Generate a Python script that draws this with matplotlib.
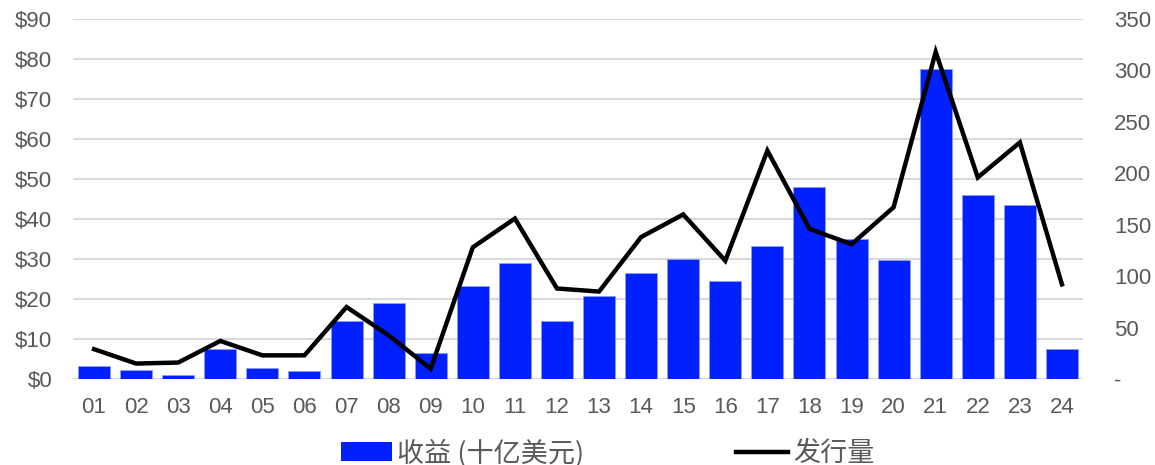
import numpy as np
import matplotlib
matplotlib.use('Agg')
from matplotlib import pyplot as plt
from matplotlib.lines import Line2D
from matplotlib.patches import Patch

plt.rcParams['font.family'] = ['Liberation Sans', 'Noto Sans CJK SC', 'DejaVu Sans']

# data
years = ['01', '02', '03', '04', '05', '06', '07', '08', '09', '10', '11', '12',
         '13', '14', '15', '16', '17', '18', '19', '20', '21', '22', '23', '24']
proceeds = [3.3, 2.25, 1.0, 7.6, 2.8, 2.1, 14.5, 18.9, 6.4, 23.3, 28.9, 14.5,
            20.8, 26.6, 30.1, 24.5, 33.3, 47.9, 34.9, 29.75, 77.4, 45.9, 43.5, 7.4]
issuance = [29, 15, 16, 37, 23, 23, 70, 42.5, 10, 128, 156, 88,
            85, 138, 160, 115, 222, 146, 131, 167, 318, 196, 230, 92]

left_ticks = np.arange(0, 91, 10)
right_ticks = np.arange(0, 351, 50)

bar_color = '#0020ff'
text_color = '#595959'
grid_color = '#d9d9d9'

fig = plt.figure(figsize=(11.55, 4.65), dpi=100)
ax1 = fig.add_axes([73/1155, 1 - 379/465, (1083 - 73)/1155, 360/465])
ax2 = ax1.twinx()

x = np.arange(len(years))
ax1.bar(x, proceeds, width=0.76, color=bar_color, edgecolor='#8c9cff', linewidth=0.6, zorder=2)
ax2.plot(x, issuance, color='black', linewidth=3.2, solid_joinstyle='miter', zorder=3)

ax1.set_xlim(-0.5, len(years) - 0.5)
ax1.set_ylim(0, 90)
ax2.set_ylim(0, 350)

ax1.set_yticks(left_ticks)
ax1.set_yticklabels(['${}'.format(v) for v in left_ticks])
ax2.set_yticks(right_ticks)
ax2.set_yticklabels(['-' if v == 0 else str(v) for v in right_ticks])
ax1.set_xticks(x)
ax1.set_xticklabels(years)

ax1.grid(axis='y', color=grid_color, linewidth=1.5, zorder=0)
ax1.set_axisbelow(True)

for ax in (ax1, ax2):
    for s in ax.spines.values():
        s.set_visible(False)
ax1.tick_params(axis='both', length=0, colors=text_color, labelsize=16)
ax1.tick_params(axis='y', pad=15)
ax1.tick_params(axis='x', pad=13)
ax2.tick_params(axis='y', length=0, colors=text_color, labelsize=16, pad=22.5)

ax1.set_zorder(1)
ax2.set_zorder(2)
ax2.patch.set_visible(False)

handles = [Patch(facecolor=bar_color, edgecolor='none'),
           Line2D([0], [0], color='black', linewidth=3.2)]
labels = ['收益 (十亿美元)', '发行量']
leg = fig.legend(handles, labels, loc='center', bbox_to_anchor=(0.526, 1 - 453/465),
                 ncol=2, frameon=False, columnspacing=5.6,
                 handlelength=1.9, handletextpad=0.2, labelcolor=text_color,
                 prop={'family': ['Noto Sans CJK SC', 'DejaVu Sans'], 'size': 19.5})

fig.savefig('out.png', dpi=100)
